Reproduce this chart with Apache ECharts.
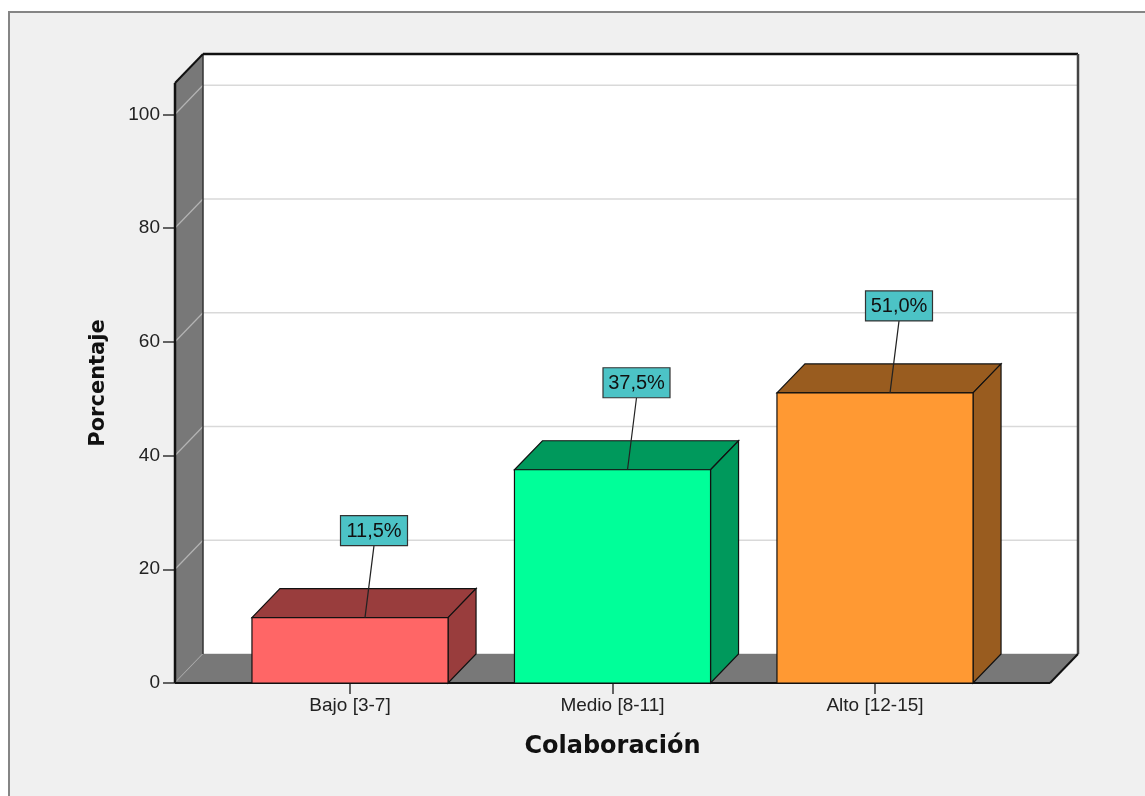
<!DOCTYPE html>
<html><head><meta charset="utf-8">
<script src="https://cdn.jsdelivr.net/npm/echarts@6/dist/echarts.min.js"></script>
<style>html,body{margin:0;padding:0;background:#fff}#c{width:1145px;height:796px}</style>
</head><body><div id="c"></div>
<script>
// ---- data ----
const categories = ['Bajo [3-7]', 'Medio [8-11]', 'Alto [12-15]'];
const percentages = [11.5, 37.5, 51.0];
const valueLabels = ['11,5%', '37,5%', '51,0%'];
const yTicks = [0, 20, 40, 60, 80, 100];
const yMax = 105.5;

// ---- style ----
const frontColors = ['#ff6666', '#00ff99', '#ff9933'];
const sideColors = ['#993d3d', '#00995c', '#995c1f'];
const DX = 28, DY = 29;
const PAD = 43.75;
const WALL = '#787878';
const GRIDC = '#d9d9d9';
const FONT = '"Liberation Sans", Arial, sans-serif';

function line(x1, y1, x2, y2, stroke, w) {
  return { type: 'line', shape: { x1, y1, x2, y2 }, style: { stroke, lineWidth: w } };
}
function poly(points, fill, stroke, w) {
  return { type: 'polygon', shape: { points }, style: { fill, stroke: stroke || null, lineWidth: w || 0 } };
}

function renderFrame(params, api) {
  const cs = params.coordSys;
  const xL = cs.x - PAD, xR = cs.x + cs.width + PAD;
  const yTop = cs.y, yBot = api.coord([0, 0])[1];
  const ch = [];
  ch.push({ type: 'rect', shape: { x: xL + DX, y: yTop - DY, width: xR - xL, height: yBot - yTop }, style: { fill: '#ffffff' } });
  yTicks.forEach(t => {
    const y = api.coord([0, t])[1];
    ch.push(line(xL + DX, y - DY, xR + DX, y - DY, GRIDC, 1.5));
  });
  ch.push(poly([[xL, yTop], [xL + DX, yTop - DY], [xL + DX, yBot - DY], [xL, yBot]], WALL));
  yTicks.forEach(t => {
    const y = api.coord([0, t])[1];
    ch.push(line(xL, y, xL + DX, y - DY, '#b4b4b4', 1.2));
  });
  ch.push(poly([[xL, yBot], [xL + DX, yBot - DY], [xR + DX, yBot - DY], [xR, yBot]], WALL));
  ch.push(line(xL + DX, yTop - DY, xL + DX, yBot - DY, '#333', 1.5));
  ch.push(line(xL + DX, yTop - DY, xR + DX, yTop - DY, '#111', 2.5));
  ch.push(line(xR + DX, yTop - DY, xR + DX, yBot - DY, '#444', 2.5));
  ch.push(line(xL, yTop, xL + DX, yTop - DY, '#111', 2));
  ch.push(line(xL, yBot, xR, yBot, '#111', 2));
  ch.push(line(xR, yBot, xR + DX, yBot - DY, '#111', 2));
  ch.push(line(xL, yTop, xL, yBot, '#111', 2.5));
  return { type: 'group', children: ch };
}

function renderBar(params, api) {
  const i = api.value(0), v = api.value(1);
  const base = api.coord([i, 0]), top = api.coord([i, v]);
  const bw = api.size([1, 0])[0] * 0.747;
  const cx = base[0];
  const x0 = cx - bw / 2, x1 = cx + bw / 2;
  const y0 = base[1], y1 = top[1];
  const ch = [];
  ch.push(poly([[x0, y1], [x0 + DX, y1 - DY], [x1 + DX, y1 - DY], [x1, y1]], sideColors[i], '#111', 1.2));
  ch.push(poly([[x1, y1], [x1 + DX, y1 - DY], [x1 + DX, y0 - DY], [x1, y0]], sideColors[i], '#111', 1.2));
  ch.push({ type: 'rect', shape: { x: x0, y: y1, width: bw, height: y0 - y1 }, style: { fill: frontColors[i], stroke: '#111', lineWidth: 1.2 } });
  const bx = cx + 24, bBottom = y1 - 72, bW = 67, bH = 30;
  ch.push(line(cx + 15, y1, bx, bBottom, '#222', 1.2));
  ch.push({ type: 'rect', shape: { x: bx - bW / 2, y: bBottom - bH, width: bW, height: bH }, style: { fill: '#4cc3c6', stroke: '#333', lineWidth: 1.2 } });
  ch.push({ type: 'text', style: { x: bx, y: bBottom - bH / 2 + 1, text: valueLabels[i], align: 'center', verticalAlign: 'middle', font: '20px ' + FONT, fill: '#111' } });
  return { type: 'group', children: ch };
}

const chart = echarts.init(document.getElementById('c'));
chart.setOption({
  backgroundColor: '#ffffff',
  animation: false,
  graphic: [{ type: 'rect', z: -100, silent: true, shape: { x: 9, y: 12, width: 1300, height: 900 }, style: { fill: '#f0f0f0', stroke: '#858585', lineWidth: 2 } }],
  grid: { left: 175 + PAD, right: 1145 - (1050 - PAD), top: 83, bottom: 113 },
  xAxis: {
    type: 'category', data: categories, boundaryGap: true,
    axisLine: { show: false },
    axisTick: { show: true, alignWithLabel: true, length: 11, lineStyle: { color: '#333', width: 1.5 } },
    axisLabel: { fontSize: 19, color: '#222', margin: 13, fontFamily: FONT },
    name: 'Colaboración', nameLocation: 'middle', nameGap: 52,
    nameTextStyle: { fontSize: 24, fontWeight: 'bold', color: '#111', fontFamily: '"DejaVu Sans", sans-serif' }
  },
  yAxis: {
    type: 'value', min: 0, max: yMax, interval: 20, offset: PAD,
    axisLine: { show: false },
    splitLine: { show: false },
    axisTick: { show: true, customValues: yTicks, length: 12, lineStyle: { color: '#333', width: 1.5 } },
    axisLabel: { customValues: yTicks, fontSize: 19, color: '#222', margin: 15, fontFamily: FONT },
    name: 'Porcentaje', nameLocation: 'middle', nameGap: 66, nameRotate: 90,
    nameTextStyle: { fontSize: 21, fontWeight: 'bold', color: '#111', fontFamily: '"DejaVu Sans", sans-serif' }
  },
  series: [
    { type: 'custom', silent: true, z: 1, renderItem: renderFrame, data: [[0, 0]] },
    { type: 'custom', silent: true, z: 2, renderItem: renderBar, data: percentages.map((v, i) => [i, v]) }
  ]
});
</script></body></html>
